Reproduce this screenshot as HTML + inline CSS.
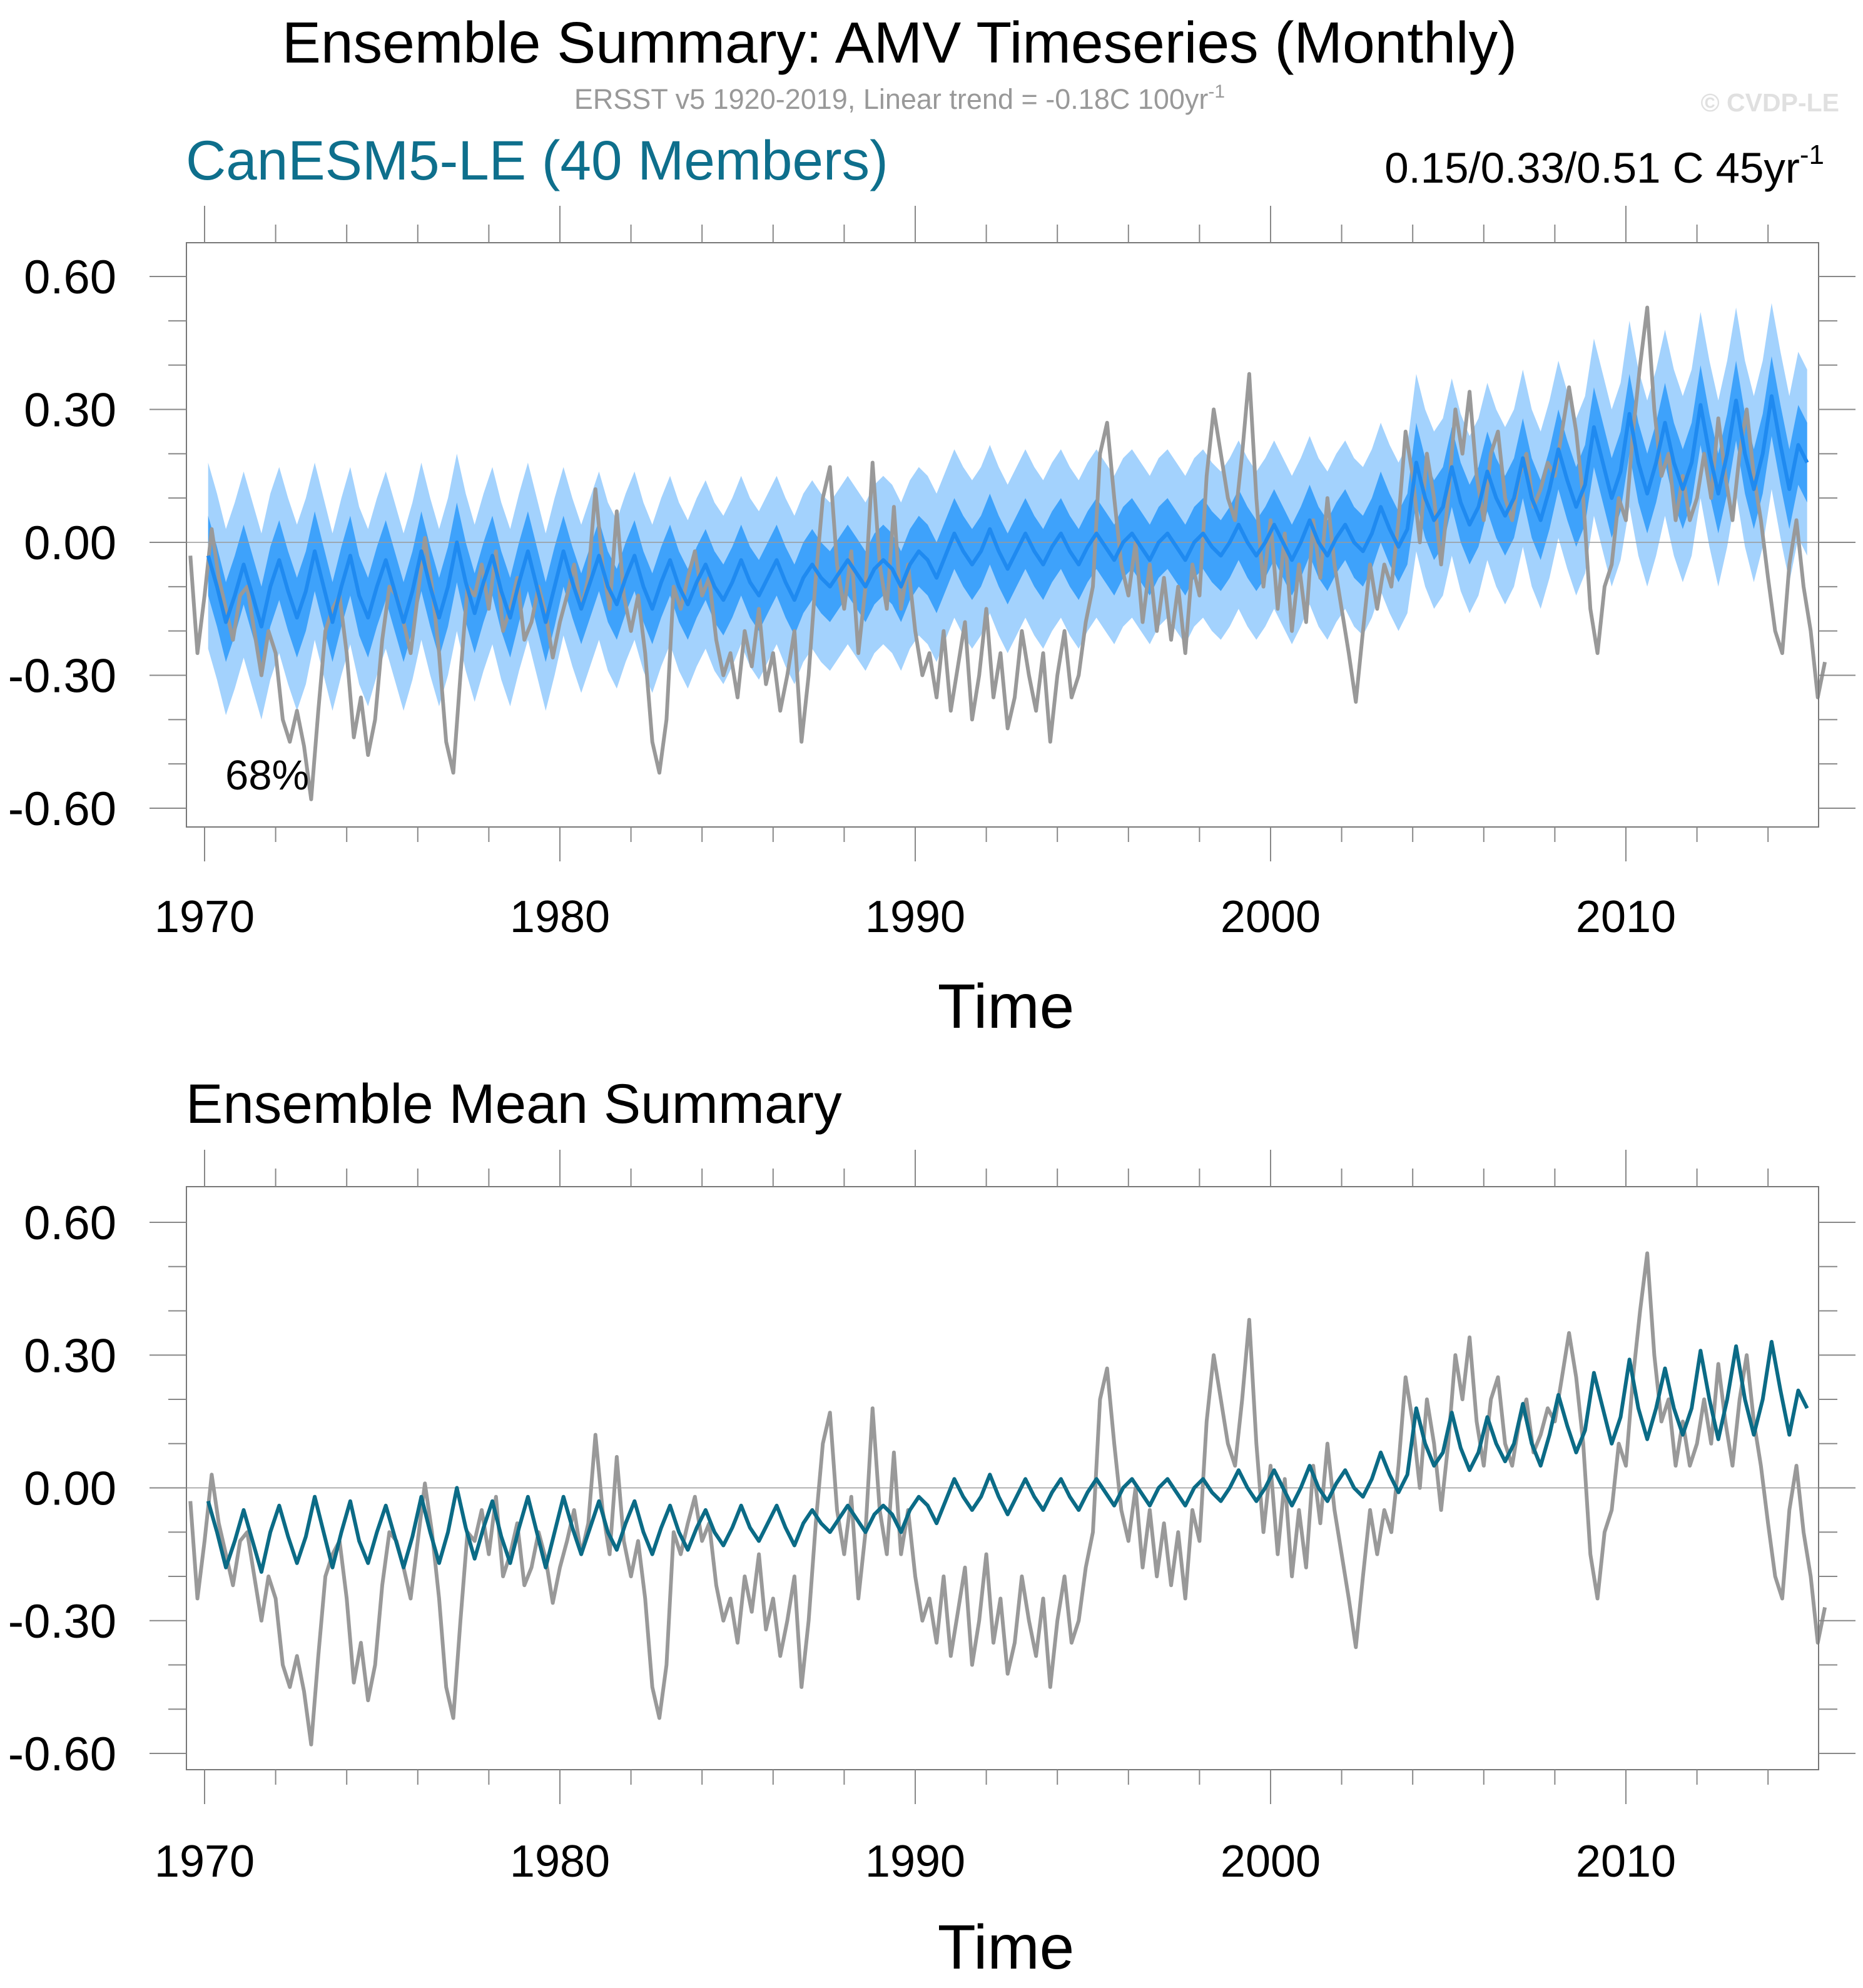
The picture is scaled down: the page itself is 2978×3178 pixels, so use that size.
<!DOCTYPE html>
<html><head><meta charset="utf-8"><style>
html,body{margin:0;padding:0;background:#fff;}
body{width:2978px;height:3173px;overflow:hidden;font-family:"Liberation Sans",Arial,sans-serif;}
svg text{font-family:"Liberation Sans",Arial,sans-serif;}
</style></head><body>
<svg id="chart" width="2978" height="3173" viewBox="0 0 2978 3173" xmlns="http://www.w3.org/2000/svg">
<text x="1438" y="100" font-size="93" text-anchor="middle" fill="#000">Ensemble Summary: AMV Timeseries (Monthly)</text>
<text x="1438" y="174" font-size="45" text-anchor="middle" fill="#999">ERSST v5 1920-2019, Linear trend = -0.18C 100yr<tspan font-size="30" dy="-18">-1</tspan></text>
<text x="2940" y="178" font-size="41" font-weight="bold" text-anchor="end" fill="#e0e0e0">© CVDP-LE</text>
<text x="297" y="287" font-size="89" fill="#0e6f8c">CanESM5-LE (40 Members)</text>
<text x="2916" y="292" font-size="69" text-anchor="end" fill="#000">0.15/0.33/0.51 C 45yr<tspan font-size="44" dy="-30">-1</tspan></text>
<text x="297" y="1795" font-size="89" fill="#000">Ensemble Mean Summary</text>
<g id="p1"></g>
<g id="p2"></g>
</svg>
<script>
const meanVals = [
-0.03,-0.10,-0.18,-0.12, -0.05,-0.12,-0.19,-0.10, -0.04,-0.11,-0.17,-0.11, -0.02,-0.10,-0.18,-0.10,
-0.03,-0.12,-0.17,-0.10, -0.04,-0.11,-0.18,-0.11, -0.02,-0.10,-0.17,-0.10, 0.00,-0.09,-0.16,-0.09,
-0.03,-0.11,-0.17,-0.09, -0.02,-0.10,-0.18,-0.10, -0.02,-0.09,-0.15,-0.09, -0.03,-0.10,-0.14,-0.08,
-0.03,-0.10,-0.15,-0.09, -0.04,-0.10,-0.14,-0.09, -0.05,-0.10,-0.13,-0.09, -0.04,-0.09,-0.12,-0.08,
-0.04,-0.09,-0.13,-0.08, -0.05,-0.08,-0.10,-0.07, -0.04,-0.07,-0.10,-0.06, -0.04,-0.06,-0.10,-0.05,
-0.02,-0.04,-0.08,-0.03, 0.02,-0.02,-0.05,-0.02, 0.03,-0.02,-0.06,-0.02, 0.02,-0.02,-0.05,-0.01,
0.02,-0.02,-0.05,-0.01, 0.02,-0.01,-0.04,0.00, 0.02,-0.01,-0.04,0.00, 0.02,-0.01,-0.04,0.00,
0.02,-0.01,-0.03,0.00, 0.04,0.00,-0.03,0.00, 0.04,0.00,-0.04,0.00, 0.05,0.00,-0.03,0.01,
0.04,0.00,-0.02,0.02, 0.08,0.03,-0.01,0.03, 0.18,0.10,0.05,0.08, 0.17,0.09,0.04,0.08,
0.16,0.10,0.06,0.10, 0.19,0.10,0.05,0.12, 0.21,0.14,0.08,0.13, 0.26,0.18,0.10,0.16,
0.29,0.18,0.11,0.18, 0.27,0.18,0.12,0.18, 0.31,0.20,0.11,0.20, 0.32,0.20,0.12,0.20,
0.33,0.22,0.12,0.22, 0.18];
const meanStart = 1970.1, meanStep = 0.25;
const innerSpread = [0.09,0.09,0.09,0.09,0.09,0.09,0.09,0.09,0.09,0.09,0.08,0.08,0.08,0.08,0.08,0.08,0.08,0.08,0.08,0.08,
0.08,0.08,0.08,0.08,0.08,0.08,0.08,0.08,0.08,0.08,0.08,0.08,0.08,0.08,0.09,0.09,0.09,0.09,0.09,0.09,0.09,0.09,0.09,0.09,0.09,0.09];
const outerSpread = [0.21,0.21,0.21,0.20,0.20,0.20,0.20,0.20,0.20,0.20,0.19,0.19,0.19,0.19,0.19,0.19,0.19,0.19,0.19,0.19,
0.19,0.19,0.19,0.19,0.19,0.19,0.19,0.19,0.19,0.19,0.19,0.19,0.19,0.19,0.20,0.20,0.20,0.20,0.20,0.20,0.21,0.21,0.21,0.21,0.21,0.21];
const obsVals = [-0.03,-0.25,
-0.12,0.03,-0.08,-0.15,-0.22, -0.12,-0.10,-0.20,-0.30,-0.20, -0.25,-0.40,-0.45,-0.38,-0.46, -0.58,-0.38,-0.20,-0.15,-0.12,
-0.25,-0.44,-0.35,-0.48,-0.40, -0.22,-0.10,-0.12,-0.18,-0.25, -0.12,0.01,-0.10,-0.25,-0.45, -0.52,-0.30,-0.10,-0.12,-0.05,
-0.15,-0.02,-0.20,-0.15,-0.08, -0.22,-0.18,-0.10,-0.16,-0.26, -0.18,-0.12,-0.05,-0.15,-0.08, 0.12,-0.05,-0.15,0.07,-0.12,
-0.20,-0.12,-0.25,-0.45,-0.52, -0.40,-0.10,-0.15,-0.08,-0.02, -0.12,-0.08,-0.22,-0.30,-0.25, -0.35,-0.20,-0.28,-0.15,-0.32,
-0.25,-0.38,-0.30,-0.20,-0.45, -0.30,-0.08,0.10,0.17,-0.05, -0.15,-0.02,-0.25,-0.10,0.18, -0.05,-0.15,0.08,-0.15,-0.05,
-0.20,-0.30,-0.25,-0.35,-0.20, -0.38,-0.28,-0.18,-0.40,-0.30, -0.15,-0.35,-0.25,-0.42,-0.35, -0.20,-0.30,-0.38,-0.25,-0.45,
-0.30,-0.20,-0.35,-0.30,-0.18, -0.10,0.20,0.27,0.10,-0.05, -0.12,0.00,-0.18,-0.05,-0.20, -0.08,-0.22,-0.10,-0.25,-0.05,
-0.12,0.15,0.30,0.20,0.10, 0.05,0.20,0.38,0.10,-0.10, 0.05,-0.15,0.02,-0.20,-0.05, -0.18,0.05,-0.08,0.10,-0.05,
-0.15,-0.25,-0.36,-0.20,-0.05, -0.15,-0.05,-0.10,0.05,0.25, 0.15,0.00,0.20,0.10,-0.05, 0.10,0.30,0.20,0.34,0.15,
0.05,0.20,0.25,0.10,0.05, 0.15,0.20,0.08,0.12,0.18, 0.15,0.25,0.35,0.25,0.10, -0.15,-0.25,-0.10,-0.05,0.10,
0.05,0.25,0.40,0.53,0.30, 0.15,0.20,0.05,0.15,0.05, 0.10,0.20,0.10,0.28,0.15, 0.05,0.20,0.30,0.15,0.05,
-0.08,-0.20,-0.25,-0.05,0.05, -0.10,-0.20,-0.35,-0.27];
const obsStart = 1969.6, obsStep = 0.2;
const yTicks = [0.6,0.3,0,-0.3,-0.6];
const yTickLabels = ["0.60","0.30","0.00","-0.30","-0.60"];
const xTicks = [1970,1980,1990,2000,2010];

const NS = "http://www.w3.org/2000/svg";
const L = 298, R = 2907;
function xs(t){ return 327 + (t-1970)*56.8; }
function mk(tag, attrs, parent){ const e=document.createElementNS(NS,tag); for(const k in attrs) e.setAttribute(k,attrs[k]); parent.appendChild(e); return e; }
function pathFrom(ts, vs, ys){ return ts.map((t,i)=>(i?'L':'M')+xs(t).toFixed(1)+','+ys(vs[i]).toFixed(1)).join(''); }

const meanT = meanVals.map((v,i)=>meanStart+i*meanStep);
const obsT = obsVals.map((v,i)=>obsStart+i*obsStep);

function panel(g, top, bottom, y06, yn06, showBands, labelY, timeY){
  const ys = v => y06 + (0.6 - v)*(yn06-y06)/1.2;
  const y0 = ys(0);
  if(showBands){
    const spI = meanT.map(t=>innerSpread[Math.min(45,Math.floor(t-1970))]);
    const spO = meanT.map(t=>outerSpread[Math.min(45,Math.floor(t-1970))]);
    const up = meanVals.map((v,i)=>v+spO[i]), lo = meanVals.map((v,i)=>v-spO[i]);
    const outer = mk('path',{d:pathFrom(meanT,up,ys)+pathFrom(meanT.slice().reverse(),lo.slice().reverse(),ys).replace('M','L')+'Z',fill:'#a3d2fd'},g);
    
    
    const up2 = meanVals.map((v,i)=>v+spI[i]), lo2 = meanVals.map((v,i)=>v-spI[i]);
    const inner = mk('path',{d:pathFrom(meanT,up2,ys)+pathFrom(meanT.slice().reverse(),lo2.slice().reverse(),ys).replace('M','L')+'Z',fill:'#3ea2fb'},g);
    
    
  }
  const zl = mk('line',{x1:L,x2:R,y1:y0,y2:y0,stroke:'#999','stroke-width':1.5},g);
  
  
  const obs = mk('path',{d:pathFrom(obsT,obsVals,ys),fill:'none',stroke:'#999','stroke-width':6,'stroke-linejoin':'round'},g);
  
  
  const ml = mk('path',{d:pathFrom(meanT,meanVals,ys),fill:'none',stroke:showBands?'#1f8af0':'#0b6b86','stroke-width':6,'stroke-linejoin':'round'},g);
  
  
  const fr = mk('rect',{x:L,y:top,width:R-L,height:bottom-top,fill:'none',stroke:'#777','stroke-width':2},g);
  
  
  for(let v=-0.7; v<=0.701; v+=0.1){
    const y = ys(v); if(y<top||y>bottom) continue;
    const major = Math.abs(Math.round(v*10)%3)===0;
    mk('line',{x1:major?239:269,x2:L,y1:y,y2:y,stroke:'#888','stroke-width':2},g);
    mk('line',{x1:R,x2:major?2966:2937,y1:y,y2:y,stroke:'#888','stroke-width':2},g);
  }
  yTicks.forEach((v,i)=>{
    const t = mk('text',{x:186,y:ys(v)+27,'font-size':76,'text-anchor':'end',fill:'#000'},g);
    t.textContent = yTickLabels[i];
    
    
  });
  for(let yr=1970; yr<=2014; yr+=2){
    const x = xs(yr), major = (yr%10===0);
    mk('line',{x1:x,x2:x,y1:top,y2:major?top-59:top-29,stroke:'#888','stroke-width':2},g);
    mk('line',{x1:x,x2:x,y1:bottom,y2:major?bottom+55:bottom+24,stroke:'#888','stroke-width':2},g);
  }
  xTicks.forEach(yr=>{
    const t = mk('text',{x:xs(yr),y:labelY,'font-size':72,'text-anchor':'middle',fill:'#000'},g);
    t.textContent = String(yr);
    
    
  });
  const tt = mk('text',{x:1608,y:timeY,'font-size':100,'text-anchor':'middle',fill:'#000'},g);
  tt.textContent = 'Time';
  
  
}
panel(document.getElementById('p1'), 388, 1322, 442, 1292, true, 1490, 1643);
panel(document.getElementById('p2'), 1897, 2829, 1954, 2803, false, 3000, 3147);
const pct = mk('text',{x:360,y:1262,'font-size':67,fill:'#000'},document.getElementById('p1'));
pct.textContent = '68%';


</script>
</body></html>
